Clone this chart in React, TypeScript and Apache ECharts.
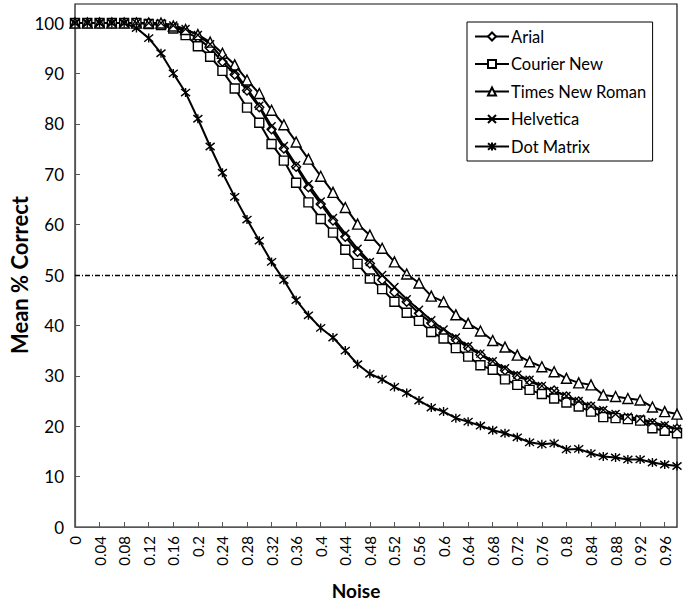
import React, { useEffect, useRef } from "react";
import * as echarts from "echarts";

const categories = ["0","0.02","0.04","0.06","0.08","0.1","0.12","0.14","0.16","0.18","0.2","0.22","0.24","0.26","0.28","0.3","0.32","0.34","0.36","0.38","0.4","0.42","0.44","0.46","0.48","0.5","0.52","0.54","0.56","0.58","0.6","0.62","0.64","0.66","0.68","0.7","0.72","0.74","0.76","0.78","0.8","0.82","0.84","0.86","0.88","0.9","0.92","0.94","0.96","0.98"];

const arial = [100,100,100,100,100,100,100,99.7,99.2,98.3,97.0,95.0,92.3,89.8,86.6,83.3,78.9,75.1,71.5,67.4,64.1,60.8,57.6,54.6,52.3,49.0,46.6,44.7,42.4,40.5,38.6,37.2,35.6,34.2,32.6,31.1,29.9,29.0,27.8,27.1,25.9,24.9,23.9,22.9,22.1,21.6,21.2,20.6,19.9,19.5];
const courierNew = [100,100,100,100,100,100,99.8,99.6,98.9,97.6,95.4,93.3,90.5,87.0,83.2,80.2,76.0,72.7,68.3,64.4,61.1,58.4,55.0,52.2,49.3,47.2,44.7,42.5,40.9,38.7,37.4,35.5,33.8,32.1,31.2,29.3,28.2,27.2,26.4,25.5,24.7,23.9,22.9,21.8,21.6,21.4,21.1,19.6,19.1,18.6];
const timesNewRoman = [100,100,100,100,100,100,100,100,99.4,98.7,97.7,96.2,94.0,91.7,88.7,86.0,82.7,79.8,76.4,73.0,69.6,66.4,63.4,60.1,57.9,55.3,52.6,50.2,48.4,45.8,44.7,42.1,40.4,38.9,37.0,35.7,34.1,32.8,31.8,30.8,29.5,28.6,28.2,26.2,25.9,25.5,25.2,23.8,22.9,22.4];
const helvetica = [100,100,100,100,100,100,100,100,99.5,98.8,97.6,95.8,93.0,90.3,87.0,83.6,79.5,75.6,71.8,68.0,64.6,61.3,58.2,55.2,52.6,50.0,47.6,45.2,43.1,41.0,39.2,37.6,35.9,34.4,32.9,31.5,30.2,29.2,28.0,27.0,26.0,25.0,24.0,23.2,22.4,21.9,21.5,20.8,20.2,19.5];
const dotMatrix = [100,100,100,100,100,99.0,97.0,94.0,90.0,86.2,81.0,75.5,70.3,65.5,61.0,56.8,52.6,49.0,45.0,42.0,39.5,37.6,35.0,32.3,30.4,29.3,27.8,26.6,25.1,23.7,22.9,21.6,20.9,20.1,19.2,18.6,17.8,16.8,16.4,16.6,15.4,15.5,14.6,14.0,13.8,13.4,13.4,12.8,12.4,12.1];

const seriesNames = ["Arial", "Courier New", "Times New Roman", "Helvetica", "Dot Matrix"];
const referenceLevel = 50;

const CROSS = "path://M0,0L10,10M10,0L0,10";
const STAR = "path://M1,1L9,9M9,1L1,9M5,0L5,10";

export default function App() {
  const ref = useRef<HTMLDivElement>(null);
  useEffect(() => {
    if (!ref.current) return;
    const chart = echarts.init(ref.current, undefined, { renderer: "svg" });
    const font = "Lato";
    const mk = (name: string, data: number[], symbol: string, size: number, extra: any = {}) => ({
      name,
      type: "line",
      data,
      symbol,
      symbolSize: size,
      showSymbol: true,
      showAllSymbol: true,
      lineStyle: { color: "#000", width: 2 },
      itemStyle: { color: "#fff", borderColor: "#000", borderWidth: 1.4 },
      emphasis: { disabled: true },
      ...extra,
    });
    chart.setOption({
      animation: false,
      backgroundColor: "#fff",
      grid: { left: 75, right: 9, top: 23, bottom: 79, containLabel: false },
      legend: {
        orient: "vertical",
        left: 467,
        top: 22,
        data: seriesNames,
        borderColor: "#000",
        borderWidth: 1,
        padding: [5.5, 6, 5.5, 7],
        itemWidth: 34,
        itemHeight: 10,
        itemGap: 9.5,
        textStyle: { fontFamily: font, fontSize: 16.5, color: "#000", lineHeight: 18, padding: [0, 0, 0, -3] },
      },
      xAxis: {
        type: "category",
        data: categories,
        boundaryGap: false,
        axisLine: { lineStyle: { color: "#555", width: 1.2 } },
        axisTick: { inside: true, interval: 1, length: 5, lineStyle: { color: "#555" } },
        axisLabel: { interval: 1, rotate: 90, fontFamily: font, fontSize: 15, color: "#000", margin: 9 },
        splitLine: { show: false },
      },
      yAxis: {
        type: "value",
        min: 0,
        max: 100,
        interval: 10,
        axisLine: { show: true, lineStyle: { color: "#555", width: 1.2 } },
        axisTick: { show: true, inside: true, length: 5, lineStyle: { color: "#555" } },
        axisLabel: { fontFamily: font, fontSize: 17, color: "#000", margin: 11 },
        splitLine: { show: false },
      },
      graphic: [
        {
          type: "rect",
          shape: { x: 75, y: 4, width: 602, height: 523 },
          style: { fill: "none", stroke: "#111", lineWidth: 1.2 },
          silent: true,
        },
        {
          type: "text",
          x: 19,
          y: 275,
          rotation: Math.PI / 2,
          style: { text: "Mean % Correct", fontFamily: font, fontSize: 22, fontWeight: "bold", fill: "#000", align: "center", verticalAlign: "middle" },
        },
        {
          type: "text",
          x: 356,
          y: 590,
          style: { text: "Noise", fontFamily: font, fontSize: 19, fontWeight: "bold", fill: "#000", align: "center", verticalAlign: "middle" },
        },
      ],
      series: [
        mk(seriesNames[0], arial, "diamond", 9, {
          markLine: {
            silent: true,
            symbol: "none",
            label: { show: false },
            lineStyle: { color: "#000", type: [5, 2, 1, 2], width: 1.3 },
            data: [{ yAxis: referenceLevel }],
          },
        }),
        mk(seriesNames[1], courierNew, "rect", 9),
        mk(seriesNames[2], timesNewRoman, "triangle", 10),
        mk(seriesNames[3], helvetica, CROSS, 8),
        mk(seriesNames[4], dotMatrix, STAR, 9),
      ],
    });
    return () => chart.dispose();
  }, []);
  return <div ref={ref} style={{ position: "fixed", left: 0, top: 0, width: 686, height: 606 }} />;
}
